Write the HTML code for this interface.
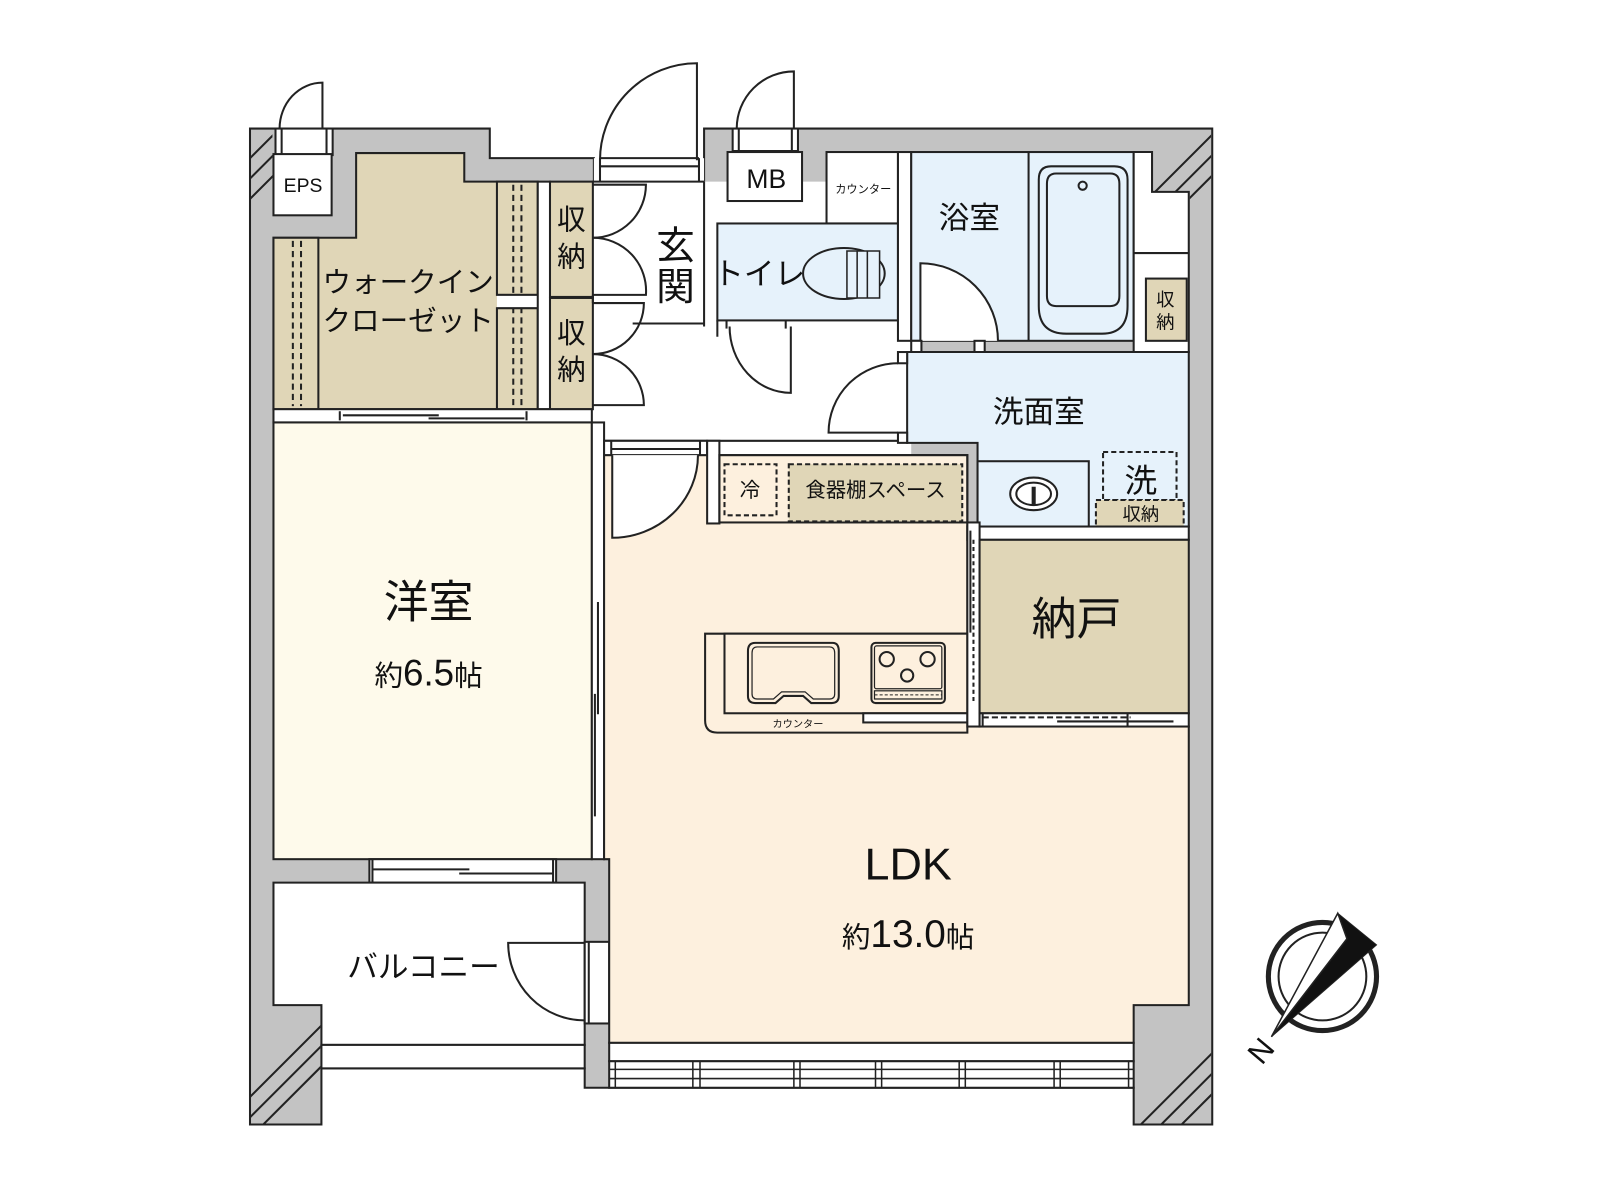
<!DOCTYPE html>
<html><head><meta charset="utf-8"><style>
html,body{margin:0;padding:0;background:#fff;}
svg{display:block;}
text{font-family:"Liberation Sans","Noto Sans CJK JP",sans-serif;fill:#111;}
</style></head><body>
<svg width="1600" height="1200" viewBox="0 0 1568 1176" xmlns="http://www.w3.org/2000/svg">
<defs>
<clipPath id="h1"><rect x="246" y="127" width="21" height="80"/></clipPath>
<clipPath id="h2"><rect x="246" y="986" width="68" height="115"/></clipPath>
<clipPath id="h3"><rect x="1111" y="986" width="76" height="115"/></clipPath>
<clipPath id="h4"><polygon points="1129,127 1187,127 1187,250 1166,250 1166,188 1129,188"/></clipPath>
</defs>
<g stroke="#222" stroke-width="2" fill="none">
<!-- main gray -->
<polygon fill="#c3c3c3" points="245,126 480,126 480,155 582,155 582,180 690,180 690,126 1188,126 1188,1102 1111,1102 1111,1066 573,1066 573,1047 315,1047 315,1102 245,1102"/>
<!-- hatches -->
<g clip-path="url(#h1)" stroke-width="2"><line x1="230" y1="170" x2="290" y2="110"/><line x1="230" y1="190" x2="290" y2="130"/><line x1="230" y1="210" x2="290" y2="150"/></g>
<g clip-path="url(#h2)" stroke-width="2"><line x1="230" y1="1090" x2="330" y2="990"/><line x1="230" y1="1110" x2="330" y2="1010"/><line x1="230" y1="1130" x2="330" y2="1030"/></g>
<g clip-path="url(#h3)" stroke-width="2"><line x1="1100" y1="1120" x2="1200" y2="1020"/><line x1="1120" y1="1120" x2="1220" y2="1020"/><line x1="1140" y1="1120" x2="1240" y2="1020"/></g>
<g clip-path="url(#h4)" stroke-width="2"><line x1="1120" y1="200" x2="1200" y2="120"/><line x1="1140" y1="200" x2="1220" y2="120"/><line x1="1160" y1="200" x2="1240" y2="120"/></g>
<!-- entrance frame -->
<rect x="582" y="155" width="108" height="25" fill="#fff" stroke="none"/>
<line x1="588" y1="155" x2="685" y2="155"/><line x1="588" y1="163" x2="685" y2="163"/>
<line x1="588" y1="155" x2="588" y2="180"/><line x1="685" y1="155" x2="685" y2="180"/>
<path d="M683,157 V62 A95,95 0 0 0 588,157"/>
<!-- EPS -->
<rect x="270" y="126" width="56" height="26" fill="#fff"/>
<line x1="276" y1="126" x2="276" y2="152"/><line x1="320" y1="126" x2="320" y2="152"/>
<rect x="268" y="151" width="57" height="60" fill="#fff"/>
<path d="M316,126 V81 A42,45 0 0 0 274,126"/>
<!-- MB door -->
<rect x="718" y="126" width="64" height="22" fill="#fff"/>
<line x1="724" y1="126" x2="724" y2="148"/><line x1="776" y1="126" x2="776" y2="148"/>
<path d="M778,126 V70 A56,56 0 0 0 722,126"/>
<!-- big white hall -->
<rect x="580" y="178" width="313" height="268" fill="#fff" stroke="none"/>
<line x1="580" y1="178" x2="690" y2="178"/>
<line x1="690" y1="178" x2="690" y2="320"/><line x1="620" y1="317" x2="690" y2="317"/>
<line x1="592" y1="432" x2="889" y2="432"/>
<!-- WIC -->
<polygon fill="#e0d6b7" points="268,233 349,233 349,150 455,150 455,178 527,178 527,401 268,401"/>
<rect x="268" y="233" width="44" height="168" fill="#e0d6b7"/>
<line x1="287" y1="236" x2="287" y2="398" stroke-dasharray="6,4"/><line x1="295" y1="236" x2="295" y2="398" stroke-dasharray="6,4"/>
<rect x="487" y="178" width="40" height="111" fill="#e0d6b7"/>
<rect x="487" y="302" width="40" height="99" fill="#e0d6b7"/>
<line x1="503" y1="181" x2="503" y2="398" stroke-dasharray="6,4"/><line x1="511" y1="181" x2="511" y2="398" stroke-dasharray="6,4"/>
<rect x="487" y="289" width="53" height="13" fill="#fff" stroke="none"/>
<line x1="487" y1="289" x2="527" y2="289"/><line x1="487" y1="302" x2="527" y2="302"/>
<rect x="527" y="178" width="12" height="223" fill="#fff"/>
<rect x="539" y="178" width="42" height="113" fill="#e0d6b7"/>
<rect x="539" y="292" width="42" height="109" fill="#e0d6b7"/>
<!-- 収納 doors -->
<path d="M581,181 H633 A52,52 0 0 1 581,233"/>
<path d="M581,289 H633 A52,52 0 0 0 581,233"/>
<path d="M581,297 H631 A50,50 0 0 1 581,347"/>
<path d="M581,397 H631 A50,50 0 0 0 581,347"/>
<line x1="581" y1="289" x2="581" y2="297"/>
<!-- strip below WIC -->
<rect x="268" y="401" width="312" height="13" fill="#fff"/>
<line x1="333" y1="403" x2="333" y2="412"/><line x1="516" y1="403" x2="516" y2="412"/>
<line x1="336" y1="407" x2="430" y2="407"/><line x1="420" y1="410" x2="514" y2="410"/>
<!-- 洋室 -->
<rect x="268" y="414" width="312" height="428" fill="#fefaeb"/>
<rect x="580" y="414" width="12" height="428" fill="#fff"/>
<line x1="586" y1="590" x2="586" y2="700"/><line x1="583" y1="680" x2="583" y2="800"/>
<!-- window 洋室/balcony -->
<rect x="362" y="842" width="183" height="23" fill="#fff"/>
<line x1="365" y1="842" x2="365" y2="865"/><line x1="542" y1="842" x2="542" y2="865"/>
<line x1="365" y1="852" x2="460" y2="852"/><line x1="450" y1="856" x2="542" y2="856"/>
<!-- balcony -->
<polygon fill="#fff" points="268,865 573,865 573,1024 315,1024 315,985 268,985"/>
<rect x="315" y="1024" width="258" height="23" fill="#fff"/>
<rect x="573" y="923" width="24" height="80" fill="#fff"/>
<line x1="577" y1="923" x2="577" y2="1003"/>
<path d="M573,924 H498 A75,76 0 0 0 573,1000"/>
<!-- LDK -->
<polygon fill="#fdf0de" points="592,446 948,446 948,712 1165,712 1165,985 1111,985 1111,1022 597,1022 597,842 592,842"/>
<rect x="592" y="432" width="101" height="14" fill="#fff"/>
<line x1="599" y1="432" x2="599" y2="446"/><line x1="686" y1="432" x2="686" y2="446"/>
<line x1="599" y1="440" x2="686" y2="440"/>
<rect x="693" y="432" width="12" height="81" fill="#fff"/>
<path d="M600,446 V527 A84,81 0 0 0 684,446" fill="#fff"/>
<!-- LDK rail -->
<rect x="597" y="1022" width="514" height="18" fill="#fff"/>
<rect x="597" y="1040" width="514" height="26" fill="#fff"/>
<g stroke-width="1.5">
<line x1="603" y1="1040" x2="603" y2="1066"/>
<line x1="597" y1="1048" x2="1111" y2="1048"/><line x1="597" y1="1057" x2="1111" y2="1057"/>
<line x1="679" y1="1040" x2="679" y2="1066"/><line x1="686" y1="1040" x2="686" y2="1066"/>
<line x1="778" y1="1040" x2="778" y2="1066"/><line x1="784" y1="1040" x2="784" y2="1066"/>
<line x1="858" y1="1040" x2="858" y2="1066"/><line x1="864" y1="1040" x2="864" y2="1066"/>
<line x1="940" y1="1040" x2="940" y2="1066"/><line x1="946" y1="1040" x2="946" y2="1066"/>
<line x1="1033" y1="1040" x2="1033" y2="1066"/><line x1="1039" y1="1040" x2="1039" y2="1066"/>
<line x1="1106" y1="1040" x2="1106" y2="1066"/>
</g>
<!-- kitchen top -->
<rect x="705" y="446" width="243" height="66" fill="none"/>
<rect x="710" y="455" width="51" height="50" fill="none" stroke-dasharray="5,3"/>
<rect x="773" y="455" width="170" height="56" fill="#e0d6b7" stroke-dasharray="5,3"/>
<!-- counter -->
<path d="M691,621 H948 V718 H703 Q691,718 691,706 Z" fill="#fdf0de"/>
<rect x="710" y="621" width="238" height="78" fill="#fdf0de"/>
<rect x="846" y="699" width="102" height="9" fill="#fff"/>
<path d="M740,630 H816 Q822,630 822,638 V682 Q822,689 815,689 H795 L787,682 H768 L760,689 H740 Q733,689 733,682 V638 Q733,630 740,630 Z"/>
<path d="M742,634 H813 Q818,634 818,640 V680 Q818,685 813,685 H797 L789,678 H766 L758,685 H742 Q737,685 737,680 V640 Q737,634 742,634 Z" stroke-width="1.2"/>
<rect x="854" y="630" width="72" height="59" rx="4"/>
<rect x="857" y="633" width="66" height="42" rx="2" stroke-width="1.2"/>
<circle cx="869" cy="646" r="7"/><circle cx="909" cy="646" r="7"/><circle cx="889" cy="662" r="6"/>
<rect x="857" y="677" width="66" height="8" stroke-width="1.2"/>
<line x1="857" y1="681" x2="923" y2="681" stroke-dasharray="3,2" stroke-width="1"/>
<!-- toilet & counter & MB -->
<rect x="713" y="149" width="73" height="48" fill="#fff"/>
<rect x="810" y="149" width="70" height="70" fill="#fff"/>
<rect x="703" y="219" width="177" height="95" fill="#e6f2fb"/>
<rect x="880" y="149" width="13" height="185" fill="#fff"/>
<ellipse cx="827" cy="268" rx="40" ry="25" fill="#e6f2fb"/>
<path d="M830,246 H862 V292 H830 Z M840,246 V292 M850,246 V292" fill="#e6f2fb" stroke-width="1.5"/>
<line x1="703" y1="314" x2="703" y2="330"/><line x1="712" y1="314" x2="712" y2="322"/><line x1="770" y1="314" x2="770" y2="322"/>
<path d="M775,320 V385 A60,65 0 0 1 715,320"/>
<!-- bath -->
<rect x="893" y="149" width="218" height="185" fill="#e6f2fb"/>
<line x1="1008" y1="149" x2="1008" y2="334"/>
<path d="M1030,163 H1092 Q1105,163 1105,176 V300 Q1105,327 1080,327 H1045 Q1018,327 1018,300 V176 Q1018,163 1030,163 Z"/>
<path d="M1035,170 H1088 Q1097,170 1097,180 V290 Q1097,300 1088,300 H1035 Q1026,300 1026,290 V180 Q1026,170 1035,170 Z"/>
<circle cx="1061" cy="182" r="4"/>
<path d="M902,334 V258 A76,76 0 0 1 978,334" fill="#fff"/>
<rect x="893" y="334" width="10" height="11" fill="#fff"/><rect x="955" y="334" width="10" height="11" fill="#fff"/>
<!-- right strip -->
<polygon fill="#fff" points="1111,149 1129,149 1129,188 1165,188 1165,345 1111,345"/>
<line x1="1111" y1="248" x2="1165" y2="248"/>
<rect x="1123" y="273" width="40" height="61" fill="#e0d6b7"/>
<path d="M1155,345 V370 A22,25 0 0 1 1133,345"/>
<!-- 洗面室 -->
<polygon fill="#e6f2fb" points="889,345 1165,345 1165,516 958,516 958,434 889,434"/>
<path d="M880,424 H812 A68,68 0 0 1 880,356" fill="#fff"/>
<rect x="880" y="345" width="9" height="11" fill="#fff"/><rect x="880" y="424" width="9" height="10" fill="#fff"/>
<rect x="958" y="452" width="109" height="64" fill="#e6f2fb"/>
<ellipse cx="1013" cy="484" rx="23" ry="16" fill="#fff"/><ellipse cx="1013" cy="484" rx="17" ry="11"/>
<line x1="1013" y1="477" x2="1013" y2="495" stroke-width="4"/>
<rect x="1081" y="443" width="72" height="47" stroke-dasharray="5,3"/>
<rect x="1074" y="490" width="86" height="26" fill="#e0d6b7" stroke-dasharray="5,3"/>
<!-- strips & 納戸 -->
<rect x="948" y="516" width="217" height="13" fill="#fff"/>
<rect x="948" y="512" width="12" height="200" fill="#fff"/>
<line x1="954" y1="529" x2="954" y2="690" stroke-dasharray="4,3"/><line x1="951" y1="520" x2="951" y2="620"/>
<rect x="960" y="529" width="205" height="170" fill="#e0d6b7"/>
<rect x="960" y="699" width="205" height="13" fill="#fff"/>
<line x1="963" y1="703" x2="1108" y2="703" stroke-dasharray="6,3"/><line x1="1036" y1="707" x2="1150" y2="707"/>
<line x1="963" y1="699" x2="963" y2="712"/><line x1="1105" y1="699" x2="1105" y2="712"/>
<!-- compass -->
<circle cx="1296" cy="957" r="53" stroke-width="5"/>
<circle cx="1296" cy="957" r="43" stroke-width="2"/>
<polygon points="1311,895 1349,926 1246,1016" fill="#111" stroke-width="1"/>
<polygon points="1311,895 1320,920 1246,1016" fill="#fff" stroke-width="1.5"/>
</g>
<!-- text -->
<text x="297" y="188" font-size="19" text-anchor="middle">EPS</text>
<text x="400" y="286" font-size="28" text-anchor="middle">ウォークイン</text>
<text x="400" y="324" font-size="28" text-anchor="middle">クローゼット</text>
<text x="560" y="225" font-size="28" text-anchor="middle">収</text>
<text x="560" y="261" font-size="28" text-anchor="middle">納</text>
<text x="560" y="336" font-size="28" text-anchor="middle">収</text>
<text x="560" y="372" font-size="28" text-anchor="middle">納</text>
<text x="662" y="254" font-size="38" text-anchor="middle">玄</text>
<text x="662" y="294" font-size="38" text-anchor="middle">関</text>
<text x="751" y="184" font-size="26" text-anchor="middle">MB</text>
<text x="846" y="189" font-size="11" text-anchor="middle">カウンター</text>
<text x="744" y="279" font-size="30" text-anchor="middle">トイレ</text>
<text x="950" y="224" font-size="30" text-anchor="middle">浴室</text>
<text x="1142" y="300" font-size="18" text-anchor="middle">収</text>
<text x="1142" y="322" font-size="18" text-anchor="middle">納</text>
<text x="1018" y="414" font-size="30" text-anchor="middle">洗面室</text>
<text x="1118" y="482" font-size="32" text-anchor="middle">洗</text>
<text x="1118" y="510" font-size="18" text-anchor="middle">収納</text>
<text x="735" y="487" font-size="20" text-anchor="middle">冷</text>
<text x="858" y="487" font-size="20" text-anchor="middle">食器棚スペース</text>
<text x="1055" y="622" font-size="44" text-anchor="middle">納戸</text>
<text x="420" y="605" font-size="44" text-anchor="middle">洋室</text>
<text x="420" y="672" font-size="28" text-anchor="middle">約<tspan font-size="36">6.5</tspan>帖</text>
<text x="782" y="713" font-size="10" text-anchor="middle">カウンター</text>
<text x="890" y="862" font-size="44" text-anchor="middle">LDK</text>
<text x="890" y="928" font-size="28" text-anchor="middle">約<tspan font-size="38">13.0</tspan>帖</text>
<text x="415" y="958" font-size="30" text-anchor="middle">バルコニー</text>
<text x="1236" y="1040" font-size="30" font-family="Liberation Serif" text-anchor="middle" transform="rotate(-50 1236 1030)">N</text>
</svg>
</body></html>
